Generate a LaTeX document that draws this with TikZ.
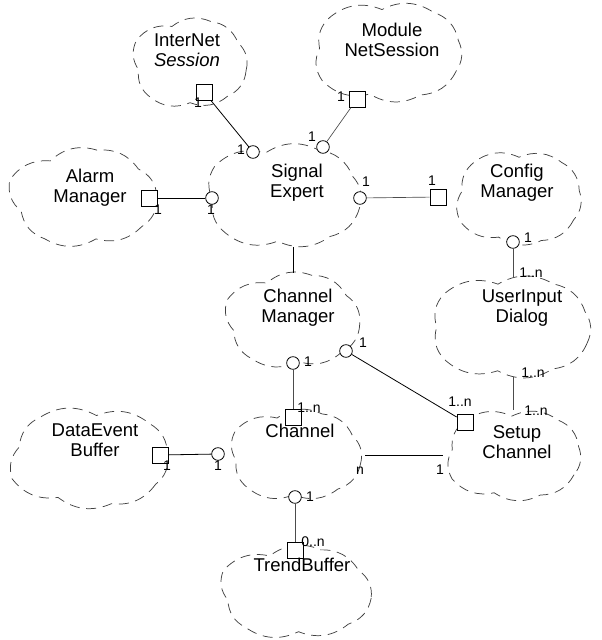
\documentclass[tikz,border=0pt]{standalone}
\usepackage{fontspec}
\setmainfont{Liberation Sans}
\usetikzlibrary{shapes.geometric}
% Booch class cloud: name, centre x, centre y, radius x, radius y, start angle
\newcommand\bcloud[6]{%
  \node[cbase, minimum width={1.5*(#4+3)*1pt}, minimum height={1.5*(#5+3)*1pt}] (#1) at (#2,#3) {};
  \draw[cl] ({#2+#4*cos(#6)},{#3+#5*sin(#6)})
    \foreach \k in {1,...,9} {
      to[bend left=30] ({#2+#4*(1+0.085*sin(\k*160))*cos(#6+\k*40)},
                        {#3+#5*(1+0.085*sin(\k*160))*sin(#6+\k*40)})
    };%
}
\begin{document}
\begin{tikzpicture}[x=0.75pt,y=-0.75pt,
  cbase/.style={ellipse, draw=none, inner sep=0pt},
  cl/.style={draw=black!75, dash pattern=on 7.5pt off 5pt, line width=0.55pt},
  cname/.style={align=center, font=\fontsize{13.9}{15}\selectfont, inner sep=0pt},
  sqa/.style={draw, fill=white, minimum size=12pt, inner sep=0pt, line width=0.6pt},
  cia/.style={circle, draw, fill=white, minimum size=9.5pt, inner sep=0pt, line width=0.6pt},
  mult/.style={font=\fontsize{10.5}{10.5}\selectfont, inner sep=0pt},
  link/.style={line width=0.6pt},
  faint/.style={line width=0.5pt, draw=black!70}]
\useasboundingbox (0,0) rectangle (601,640);

% class clouds
\bcloud{ins}{190}{63}{57}{42}{10}
\bcloud{mns}{388}{52}{75}{46}{25}
\bcloud{alm}{84}{197}{73}{45}{0}
\bcloud{sig}{284}{196}{78}{48}{15}
\bcloud{cfg}{519}{198}{63}{44}{30}
\bcloud{chm}{293}{320}{67}{44}{5}
\bcloud{uid}{511}{327}{81}{47}{20}
\bcloud{deb}{90}{458}{80}{46}{35}
\bcloud{chn}{296}{455}{66}{42}{12}
\bcloud{stc}{514}{455}{68}{42}{28}
\bcloud{tbf}{296}{592}{76}{42}{8}

% adornments: squares on the supplier side, circles on the client side
\node[sqa] (sqI) at (204,92)  {};
\node[cia] (ciI) at (253,152) {};
\node[sqa] (sqM) at (357,99)  {};
\node[cia] (ciM) at (323,147) {};
\node[sqa] (sqA) at (149,198) {};
\node[cia] (ciA) at (212,198) {};
\node[sqa] (sqC) at (438,197) {};
\node[cia] (ciC) at (360,198) {};
\node[cia] (ciF) at (513,242) {};
\node[cia] (ciG) at (346,351) {};
\node[sqa] (sqS) at (465,422) {};
\node[cia] (ciH) at (293,363) {};
\node[sqa] (sqH) at (293,417) {};
\node[sqa] (sqD) at (160,455) {};
\node[cia] (ciD) at (218,454) {};
\node[cia] (ciT) at (295,497) {};
\node[sqa] (sqT) at (295,550) {};

% associations
\draw[link] (sqI) -- (ciI);
\draw[faint] (sqM) -- (ciM);
\draw[link] (sqA) -- (ciA);
\draw[faint] (sqC) -- (ciC);
\draw[link] (chm.north) -- (chm.north |- sig.south);
\draw[faint] (ciF) -- (ciF |- uid.north);
\draw[faint] (ciF |- uid.south) -- (ciF |- stc.north);
\draw[link] (ciG) -- (sqS);
\draw[faint] (ciH) -- (sqH);
\draw[link] (sqD) -- (ciD);
\draw[link] (chn.east) -- (stc.west);
\draw[faint] (ciT) -- (sqT);

% class names
\node[cname] (tins) at (187,50)  {InterNet\\\textit{Session}};
\node[cname] (tmns) at (392,40)  {Module\\NetSession};
\node[cname] (talm) at (90,188)  {Alarm\\Manager};
\node[cname] (tsig) at (297,183) {Signal\\Expert};
\node[cname] (tcfg) at (517,183) {Config\\Manager};
\node[cname] (tchm) at (298,308) {Channel\\Manager};
\node[cname] (tuid) at (522,308) {UserInput\\Dialog};
\node[cname] (tdeb) at (95,440)  {DataEvent\\Buffer};
\node[cname] (tchn) at (300,431) {Channel};
\node[cname] (tstc) at (517,442) {Setup\\Channel};
\node[cname] (ttbf) at (302,565) {TrendBuffer};

% multiplicities
\node[mult] (m1)  at (198,103) {1};
\node[mult] (m2)  at (241,150) {1};
\node[mult] (m3)  at (341,97)  {1};
\node[mult] (m4)  at (312,137) {1};
\node[mult] (m5)  at (158,210) {1};
\node[mult] (m6)  at (211,210) {1};
\node[mult] (m7)  at (432,181) {1};
\node[mult] (m8)  at (366,182) {1};
\node[mult] (m9)  at (528,238) {1};
\node[mult] (m10) at (531,273) {1..n};
\node[mult] (m11) at (533,373) {1..n};
\node[mult] (m12) at (536,411) {1..n};
\node[mult] (m13) at (363,343) {1};
\node[mult] (m14) at (460,402) {1..n};
\node[mult] (m15) at (308,362) {1};
\node[mult] (m16) at (309,408) {1..n};
\node[mult] (m17) at (167,466) {1};
\node[mult] (m18) at (218,466) {1};
\node[mult] (m19) at (360,471) {n};
\node[mult] (m20) at (440,470) {1};
\node[mult] (m21) at (310,497) {1};
\node[mult] (m22) at (313,542) {0..n};
\end{tikzpicture}
\end{document}
